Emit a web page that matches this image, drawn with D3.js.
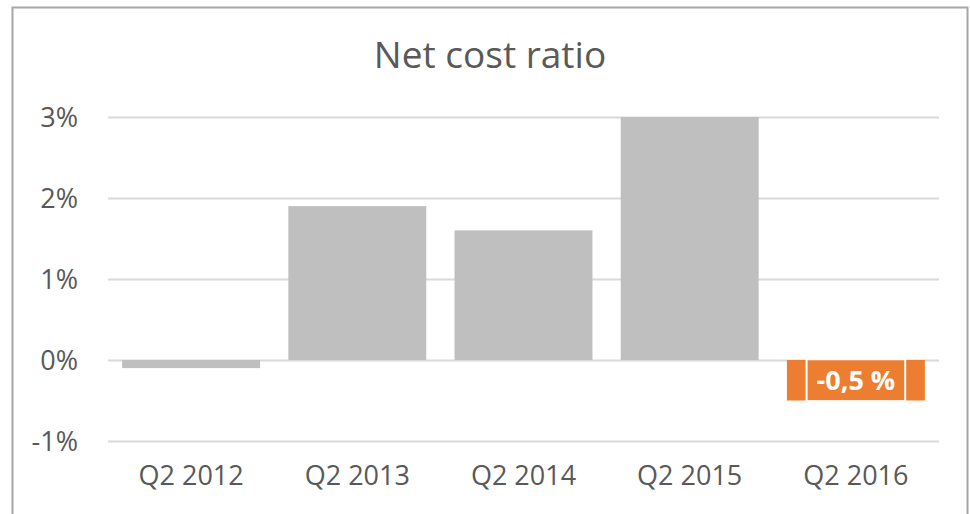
<!DOCTYPE html>
<html>
<head>
<meta charset="utf-8">
<script src="https://cdn.jsdelivr.net/npm/d3@7"></script>
<style>
  body { margin: 0; background: #fff; }
  svg { display: block; font-family: 'Open Sans', sans-serif; }
</style>
</head>
<body>
<div id="chart"></div>
<script>
// data
var categories = ['Q2 2012', 'Q2 2013', 'Q2 2014', 'Q2 2015', 'Q2 2016'];
var values = [-0.1, 1.9, 1.6, 3.0, -0.5];
var highlight = [false, false, false, false, true];
var yTicks = [-1, 0, 1, 2, 3];
var labelText = ['', '', '', '', '-0,5 %'];

var width = 970, height = 514;
var margin = {left: 108, right: 30, top: 117, bottom: 73};

var svg = d3.select('#chart').append('svg')
  .attr('width', width)
  .attr('height', height);

// outer frame
svg.append('rect')
  .attr('x', 12.5).attr('y', 7.5)
  .attr('width', 955).attr('height', 540)
  .attr('fill', 'none')
  .attr('stroke', '#a6a6a6')
  .attr('stroke-width', 2);

var x = d3.scaleBand()
  .domain(categories)
  .range([margin.left, width - margin.right - 1])
  .paddingInner(0.17)
  .paddingOuter(0.085);

var y = d3.scaleLinear()
  .domain([-1, 3])
  .range([height - margin.bottom, margin.top]);

// title
svg.append('text')
  .attr('x', 490).attr('y', 68)
  .attr('text-anchor', 'middle')
  .attr('font-size', 37)
  .attr('fill', '#595959')
  .text('Net cost ratio');

// gridlines
var yAxis = d3.axisLeft(y)
  .tickValues(yTicks)
  .tickSize(-(width - margin.right - 1 - margin.left))
  .tickPadding(30)
  .tickFormat(function(d) { return d + '%'; });

var gy = svg.append('g')
  .attr('transform', 'translate(' + margin.left + ',0)')
  .call(yAxis)
  .attr('font-family', null);
gy.select('.domain').remove();
gy.selectAll('line').attr('stroke', '#d9d9d9').attr('stroke-width', 2);
gy.selectAll('text')
  .attr('fill', '#595959')
  .attr('font-size', 27)
  .attr('dy', '0.35em');

// bars
svg.selectAll('rect.bar')
  .data(values)
  .enter().append('rect')
  .attr('class', 'bar')
  .attr('x', function(d, i) { return x(categories[i]); })
  .attr('width', x.bandwidth())
  .attr('y', function(d) { return y(Math.max(0, d)); })
  .attr('height', function(d) { return Math.abs(y(d) - y(0)); })
  .attr('fill', function(d, i) { return highlight[i] ? '#ed7d31' : '#bfbfbf'; });

// x labels
var xAxis = d3.axisBottom(x).tickSize(0).tickPadding(0);
var gx = svg.append('g')
  .attr('transform', 'translate(0,' + (height - margin.bottom) + ')')
  .call(xAxis)
  .attr('font-family', null);
gx.select('.domain').remove();
gx.selectAll('text')
  .attr('fill', '#595959')
  .attr('font-size', 27)
  .attr('dy', '1.62em');

// data label with white box
values.forEach(function(d, i) {
  if (!labelText[i]) return;
  var cx = x(categories[i]) + x.bandwidth() / 2;
  var cy = (y(0) + y(d)) / 2;
  var t = svg.append('text')
    .attr('x', cx).attr('y', cy)
    .attr('dy', '0.36em')
    .attr('text-anchor', 'middle')
    .attr('font-size', 27)
    .attr('font-weight', 'bold')
    .attr('fill', '#fff')
    .text(labelText[i]);
  var bb = t.node().getBBox();
  svg.insert('rect', function() { return t.node(); })
    .attr('x', bb.x - 10).attr('y', cy - 21)
    .attr('width', bb.width + 20).attr('height', 42)
    .attr('fill', 'none')
    .attr('stroke', '#fff')
    .attr('stroke-width', 2);
});
</script>
</body>
</html>
